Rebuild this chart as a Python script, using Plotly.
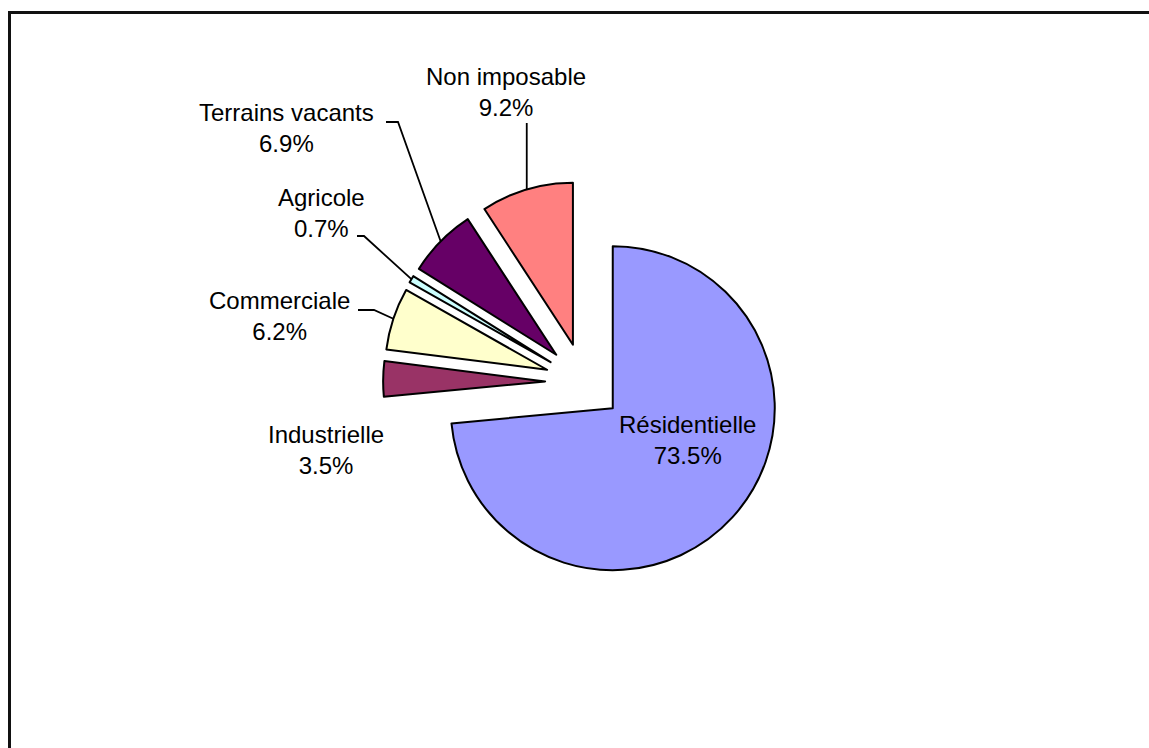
import math
import plotly.graph_objects as go

# ---- data ----
categories = ["Résidentielle", "Industrielle", "Commerciale", "Agricole",
              "Terrains vacants", "Non imposable"]
values = [73.5, 3.5, 6.2, 0.7, 6.9, 9.2]

# ---- style ----
colors = ["#9999FF", "#993366", "#FFFFCC", "#CCFFFF", "#660066", "#FF8080"]
W, H = 1149, 748
CX, CY = 584, 382          # pie centre (px)
R = 162                    # pie radius (px)
PULL = 0.24                # explode fraction
FONT = dict(family="Liberation Sans, Arial, sans-serif", size=24, color="black")
FRAME_W = 3

label_pos = {
    "Résidentielle": (687, 440),
    "Industrielle": (326, 450),
    "Commerciale": (279, 316),
    "Agricole": (321, 213),
    "Terrains vacants": (286, 128),
    "Non imposable": (506, 92),
}
leader_start = {
    "Commerciale": [(358, 310), (374, 310)],
    "Agricole": [(357, 236), (364, 236)],
    "Terrains vacants": [(386, 122), (398, 122)],
    "Non imposable": [(None, 123)],
}


def px(x, y):
    return x / W, 1 - y / H


def path_of(pts):
    return "M " + " L ".join(f"{px(a, b)[0]:.5f},{px(a, b)[1]:.5f}" for a, b in pts)


half = R * (1 + PULL)
dom_x = [(CX - half) / W, (CX + half) / W]
dom_y = [1 - (CY + half) / H, 1 - (CY - half) / H]

fig = go.Figure()
# empty cartesian trace: its axis lines draw the chart-area frame (top and left)
fig.add_trace(go.Scatter(x=[], y=[], showlegend=False, hoverinfo="skip"))
fig.add_trace(go.Pie(
    labels=categories,
    values=values,
    sort=False,
    direction="clockwise",
    rotation=0,
    pull=[PULL] * len(values),
    marker=dict(colors=colors, line=dict(color="black", width=2)),
    textinfo="none",
    hoverinfo="label+percent",
    showlegend=False,
    domain=dict(x=dom_x, y=dom_y),
))

annotations = []
shapes = []
total = sum(values)
cum = 0.0
for cat, v in zip(categories, values):
    mid = (cum + v / 2) / total
    cum += v
    th = 2 * math.pi * mid
    dx, dy = math.sin(th), -math.cos(th)
    ex, ey = CX + R * (1 + PULL) * dx, CY + R * (1 + PULL) * dy
    lx, ly = label_pos[cat]
    x, y = px(lx, ly)
    annotations.append(dict(
        x=x, y=y, xref="paper", yref="paper", xanchor="center", yanchor="middle",
        text=f"{cat}<br>{v:.1f}%", showarrow=False, font=FONT, align="center"))
    if cat in leader_start:
        pts = [(ex if p[0] is None else p[0], p[1]) for p in leader_start[cat]] + [(ex, ey)]
        shapes.append(dict(type="path", path=path_of(pts), xref="paper", yref="paper",
                           line=dict(color="black", width=1.8)))

axis_common = dict(showgrid=False, zeroline=False, showticklabels=False, ticks="",
                   showline=True, linecolor="#111111", linewidth=FRAME_W,
                   range=[0, 1], fixedrange=True)

fig.update_layout(
    width=W, height=H,
    margin=dict(l=0, r=0, t=0, b=0),
    paper_bgcolor="white",
    plot_bgcolor="white",
    annotations=annotations,
    shapes=shapes,
    xaxis=dict(domain=[(9 + FRAME_W / 2) / W, 1], side="top", **axis_common),
    yaxis=dict(domain=[0, 1 - (12 + FRAME_W / 2) / H], side="left", **axis_common),
)

fig.write_html("out.html")
